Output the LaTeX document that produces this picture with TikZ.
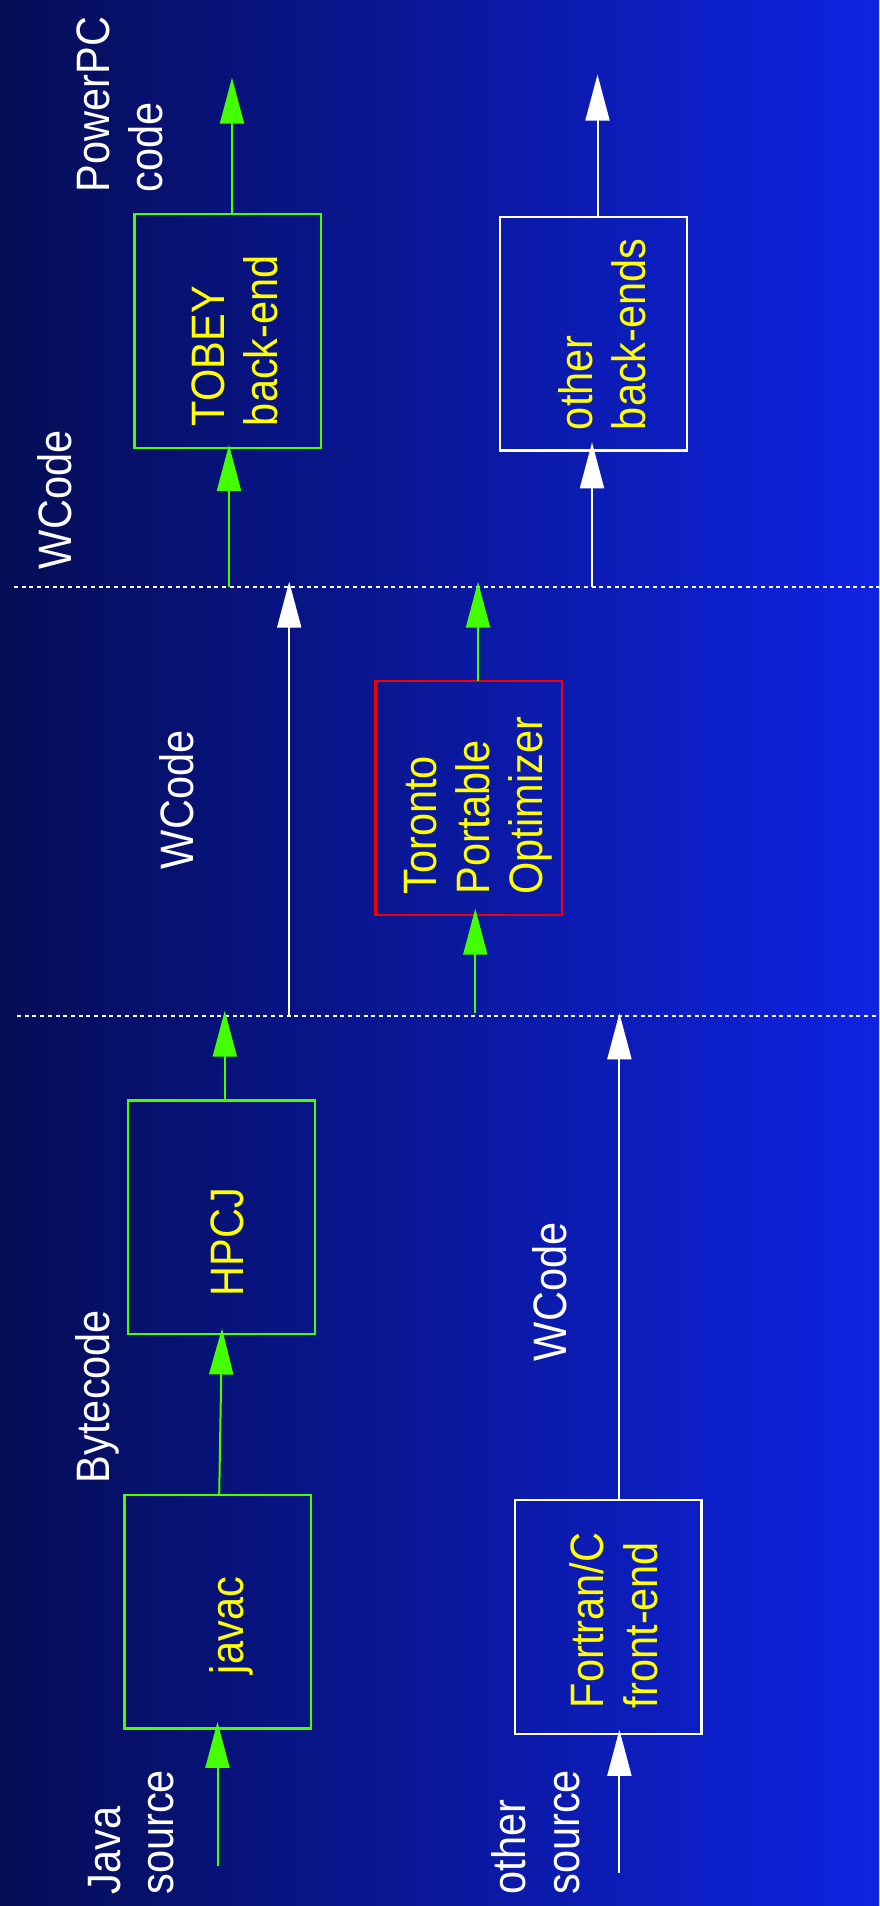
\documentclass[tikz,border=0pt]{standalone}
\usepackage{fontspec}
\setmainfont{Liberation Sans}
\usetikzlibrary{arrows.meta,calc}
\definecolor{bgL}{RGB}{5,13,85}
\definecolor{bgR}{RGB}{15,35,226}
\definecolor{grn}{RGB}{68,255,0}
\definecolor{ylw}{RGB}{255,255,0}
\definecolor{rd}{RGB}{245,0,0}
\newcommand{\lbl}[1]{\scalebox{1}[1.13]{\begin{tabular}[b]{@{}l@{}}#1\end{tabular}}}
\begin{document}
\begin{tikzpicture}[x=1pt,y=-1pt,
  box/.style={draw, line width=2.3pt, minimum width=186.5pt, minimum height=233.6pt, inner sep=0pt, outer sep=0pt},
  lab/.style={text=white, inner sep=0pt, outer sep=0pt, rotate=90, anchor=base west, font=\fontsize{41.5}{47}\selectfont},
  ylab/.style={lab, text=ylw},
  garr/.style={draw=grn, line width=2pt, -{Triangle[length=46pt,width=24pt]}},
  warr/.style={draw=white, line width=2pt, -{Triangle[length=46pt,width=24pt]}},
  sepline/.style={draw=white, line width=2.2pt, dash pattern=on 4pt off 3.7pt}]
\shade[left color=bgL, right color=bgR] (0,0) rectangle (879,1906);
\useasboundingbox (0,0) rectangle (879,1906);

% separators
\coordinate (d1L) at (14,586.7); \coordinate (d1R) at (879,586.7);
\coordinate (d2L) at (17,1016);  \coordinate (d2R) at (879,1016);
\draw[sepline] (d1L) -- (d1R);
\draw[sepline] (d2L) -- (d2R);

% boxes
\node[box, draw=grn]   (tobey)   at (227.85,331.05) {};
\node[box, draw=white] (otherbe) at (593.5,333.55) {};
\node[box, draw=rd]    (tpo)     at (468.85,797.85) {};
\node[box, draw=grn]   (hpcj)    at (221.45,1217.35) {};
\node[box, draw=grn]   (javac)   at (217.7,1611.65) {};
\node[box, draw=white] (fortran) at (608.1,1617) {};

% labels
\node[lab]  (pcode)   at (162.6,192)   {\lbl{PowerPC\\code}};
\node[lab]  (wc1)     at (71.7,569)    {\lbl{WCode}};
\node[ylab] (tobeyt)  at (277.5,426)   {\lbl{TOBEY\\back-end}};
\node[ylab] (otherbt) at (645.7,430)   {\lbl{other\\back-ends}};
\node[lab]  (wc2)     at (193.4,869)   {\lbl{WCode}};
\node[ylab] (tpot)    at (542.6,894.5) {\lbl{Toronto\\Portable\\Optimizer}};
\node[ylab] (hpcjt)   at (243.8,1296.5){\lbl{HPCJ}};
\node[lab]  (bytec)   at (109.3,1483)  {\lbl{Bytecode}};
\node[lab]  (wc3)     at (566,1361)    {\lbl{WCode}};
\node[ylab] (javact)  at (243.8,1674)  {\lbl{javac}};
\node[ylab] (fortt)   at (657,1708)    {\lbl{Fortran/C\\front-end}};
\node[lab]  (javas)   at (173.8,1894.5){\lbl{Java\\source}};
\node[lab]  (others)  at (579,1894.5)  {\lbl{other\\source}};

% connector end points
\coordinate (pcout)  at (232,77.7);
\coordinate (tobin)  at (229,586.7);
\coordinate (obout)  at (597.5,74.6);
\coordinate (obin)   at (592,586.7);
\coordinate (wmidA)  at (289.2,1016);
\coordinate (wmidB)  at (289.2,581.7);
\coordinate (tpoout) at (478,581.7);
\coordinate (tpoin)  at (475.3,1012.7);
\coordinate (hpout)  at (224.8,1010.7);
\coordinate (fwout)  at (619.4,1013.3);
\coordinate (jsrc)   at (217.5,1865.7);
\coordinate (osrc)   at (619.4,1873.3);

% connectors
\draw[garr] (tobey.north -| pcout) -- (pcout);
\draw[garr] (tobin) -- ($(tobin |- tobey.south)+(0,-3)$);
\draw[warr] (otherbe.north -| obout) -- (obout);
\draw[warr] (obin) -- ($(obin |- otherbe.south)+(0,-8)$);
\draw[warr] (wmidA) -- (wmidB);
\draw[garr] (tpo.north -| tpoout) -- (tpoout);
\draw[garr] (tpoin) -- ($(tpoin |- tpo.south)+(0,-6)$);
\draw[garr] (hpcj.north -| hpout) -- (hpout);
\draw[garr] ($(javac.north)+(1.5,0)$) -- ($(hpcj.south)+(0.55,-5.7)$);
\draw[warr] (fortran.north -| fwout) -- (fwout);
\draw[garr] (jsrc) -- ($(jsrc |- javac.south)+(0,-6.6)$);
\draw[warr] (osrc) -- ($(osrc |- fortran.south)+(0,-4)$);
\end{tikzpicture}
\end{document}
